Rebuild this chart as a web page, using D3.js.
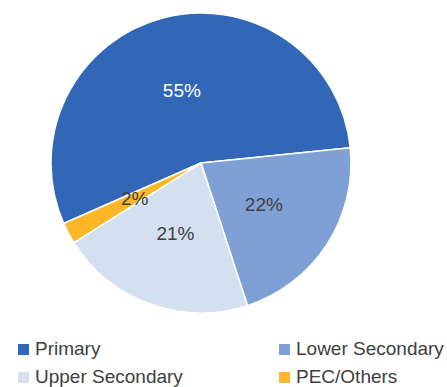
<!DOCTYPE html>
<html><head><meta charset="utf-8">
<script src="https://cdn.jsdelivr.net/npm/d3@7"></script>
<style>html,body{margin:0;padding:0;background:#fff;}</style>
</head><body>
<svg id="c" width="447" height="387"></svg>
<script>
const categories = ["Primary", "Lower Secondary", "Upper Secondary", "PEC/Others"];
const values = [55, 21.6, 21.1, 2.3];
const labels = ["55%", "22%", "21%", "2%"];
const colors = ["#3267B7", "#7FA0D4", "#D4DFF0", "#FCB628"];
const labelColors = ["#ffffff", "#404040", "#404040", "#404040"];

const svg = d3.select("#c");
const cx = 201, cy = 163, R = 150;
const start = -113.8 * Math.PI / 180;
const pie = d3.pie().sort(null).startAngle(start).endAngle(start + 2 * Math.PI);
const arcs = pie(values);
const arc = d3.arc().innerRadius(0).outerRadius(R);
const labelArc = d3.arc().innerRadius(75).outerRadius(75);
const g = svg.append("g").attr("transform", `translate(${cx},${cy})`);
g.selectAll("path").data(arcs).join("path")
  .attr("d", arc).attr("fill", (d, i) => colors[i])
  .attr("stroke", "#fff").attr("stroke-width", 1.5).attr("stroke-linejoin", "round");
g.selectAll("text").data(arcs).join("text")
  .attr("transform", d => `translate(${labelArc.centroid(d)})`)
  .attr("text-anchor", "middle").attr("dy", "0.35em")
  .attr("font-family", "Liberation Sans, Arial, sans-serif").attr("font-size", 19)
  .attr("fill", (d, i) => labelColors[i])
  .text((d, i) => labels[i]);

const legendPos = [[18, 355], [279, 355], [18, 383], [279, 383]];
const lg = svg.append("g");
categories.forEach((c, i) => {
  const [x, y] = legendPos[i];
  lg.append("rect").attr("x", x).attr("y", y - 11).attr("width", 11).attr("height", 11).attr("fill", colors[i]);
  lg.append("text").attr("x", x + 17).attr("y", y)
    .attr("font-family", "Liberation Sans, Arial, sans-serif").attr("font-size", 19)
    .attr("fill", "#404040").text(c);
});
</script>
</body></html>
